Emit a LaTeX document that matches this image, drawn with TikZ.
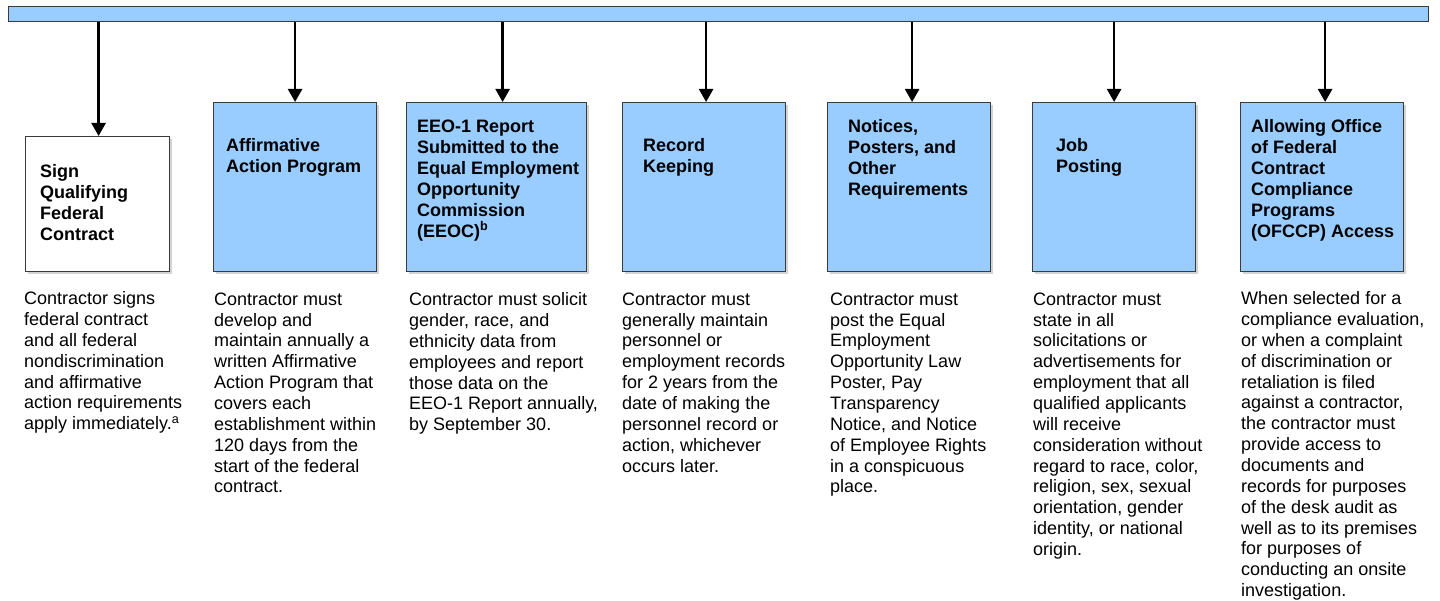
\documentclass[tikz,border=0pt]{standalone}
\usepackage{fontspec}
\setmainfont{Liberation Sans}
\usetikzlibrary{arrows.meta, positioning, shadows}
\definecolor{boxblue}{HTML}{99CCFF}
\definecolor{edgegray}{HTML}{3A3A3A}

\begin{document}
\begin{tikzpicture}[x=1pt, y=-1pt,
    box/.style={draw=edgegray, line width=1.2pt, fill=boxblue, anchor=north west,
      minimum width=163pt, minimum height=169pt, inner sep=0pt,
      drop shadow={opacity=0.35, shadow xshift=2.5pt, shadow yshift=-2.5pt}},
    title/.style={anchor=north west, inner sep=0pt, align=left,
      font=\fontsize{18}{21}\selectfont\bfseries},
    body/.style={anchor=north west, inner sep=0pt, align=left,
      font=\fontsize{18}{20.85}\selectfont},
    link/.style={-{Triangle[width=14pt, length=13pt]}, line width=2.5pt}]
      \useasboundingbox (0,0) rectangle (1440,601);

      % top bar
      \node[draw=edgegray, line width=1.2pt, fill=boxblue, anchor=north west,
        minimum width=1420pt, minimum height=15pt, inner sep=0pt] (bar) at (8,6) {};

      % boxes
      \node[box, fill=white, minimum width=144pt, minimum height=135pt] (b1) at (25,136) {};
      \node[box] (b2) at (213,102) {};
      \node[box, minimum width=180pt] (b3) at (406,102) {};
      \node[box] (b4) at (622,102) {};
      \node[box] (b5) at (827,102) {};
      \node[box] (b6) at (1032,102) {};
      \node[box] (b7) at (1240,102) {};

      \foreach \b/\dx in {b1/1,b2/0,b3/6,b4/2,b5/3,b6/0,b7/3}
        \draw[link] ([xshift=\dx pt]bar.south -| \b.north) -- ([xshift=\dx pt]\b.north);

      % titles
      \node[title] (t1) at ([shift={(15,28.5)}]b1.north west) {Sign\\Qualifying\\Federal\\Contract};
      \node[title] (t2) at ([shift={(13,36.5)}]b2.north west) {Affirmative\\Action Program};
      \node[title] (t3) at ([shift={(11,17.5)}]b3.north west) {EEO-1 Report\\Submitted to the\\Equal Employment\\Opportunity\\Commission\\(EEOC)\textsuperscript{b}};
      \node[title] (t4) at ([shift={(21,36.5)}]b4.north west) {Record\\Keeping};
      \node[title] (t5) at ([shift={(21,17.5)}]b5.north west) {Notices,\\Posters, and\\Other\\Requirements};
      \node[title] (t6) at ([shift={(24,36.5)}]b6.north west) {Job\\Posting};
      \node[title] (t7) at ([shift={(11,17.5)}]b7.north west) {Allowing Office\\of Federal\\Contract\\Compliance\\Programs\\(OFCCP) Access};

      % descriptions
      \node[body] (d1) at (24,291.5) {Contractor signs\\federal contract\\and all federal\\nondiscrimination\\and affirmative\\action requirements\\apply immediately.\textsuperscript{a}};
      \node[body] (d2) at (214,292.5) {Contractor must\\develop and\\maintain annually a\\written Affirmative\\Action Program that\\covers each\\establishment within\\120 days from the\\start of the federal\\contract.};
      \node[body] (d3) at (409,292.5) {Contractor must solicit\\gender, race, and\\ethnicity data from\\employees and report\\those data on the\\EEO-1 Report annually,\\by September 30.};
      \node[body] (d4) at (622,292.5) {Contractor must\\generally maintain\\personnel or\\employment records\\for 2 years from the\\date of making the\\personnel record or\\action, whichever\\occurs later.};
      \node[body] (d5) at (830,292.5) {Contractor must\\post the Equal\\Employment\\Opportunity Law\\Poster, Pay\\Transparency\\Notice, and Notice\\of Employee Rights\\in a conspicuous\\place.};
      \node[body] (d6) at (1033,292.5) {Contractor must\\state in all\\solicitations or\\advertisements for\\employment that all\\qualified applicants\\will receive\\consideration without\\regard to race, color,\\religion, sex, sexual\\orientation, gender\\identity, or national\\origin.};
      \node[body] (d7) at (1241,291.5) {When selected for a\\compliance evaluation,\\or when a complaint\\of discrimination or\\retaliation is filed\\against a contractor,\\the contractor must\\provide access to\\documents and\\records for purposes\\of the desk audit as\\well as to its premises\\for purposes of\\conducting an onsite\\investigation.};
\end{tikzpicture}
\end{document}
